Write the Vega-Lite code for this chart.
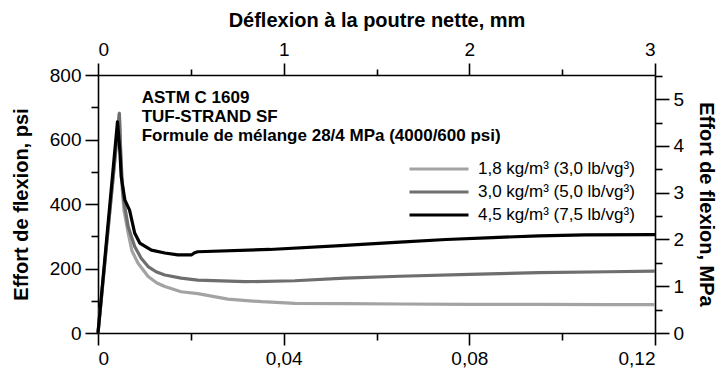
{
  "$schema": "https://vega.github.io/schema/vega-lite/v6.json",
  "width": 557,
  "height": 258,
  "autosize": {"type": "none"},
  "padding": {"left": 98, "top": 75, "right": 66, "bottom": 42},
  "background": "white",
  "config": {
    "view": {"stroke": null},
    "font": "Liberation Sans",
    "locale": {"number": {"decimal": ",", "thousands": ".", "grouping": [3], "currency": ["", " €"]}},
    "axis": {
      "grid": false,
      "domainColor": "black",
      "domainWidth": 1.6,
      "tickColor": "black",
      "tickWidth": 1.6,
      "labelColor": "black",
      "titleColor": "black",
      "labelFont": "Liberation Sans",
      "titleFont": "Liberation Sans",
      "labelFontSize": 19,
      "titleFontSize": 20,
      "titleFontWeight": "bold",
      "offset": 0
    }
  },
  "resolve": {
    "scale": {"x": "independent", "y": "independent"},
    "axis": {"x": "independent", "y": "independent"}
  },
  "layer": [
    {
      "layer": [
        {
          "data": {
            "values": [
              {"serie": "1,8 kg/m³ (3,0 lb/vg³)", "defl": 0, "psi": 0},
              {"serie": "1,8 kg/m³ (3,0 lb/vg³)", "defl": 0.0046, "psi": 682},
              {"serie": "1,8 kg/m³ (3,0 lb/vg³)", "defl": 0.00485, "psi": 560},
              {"serie": "1,8 kg/m³ (3,0 lb/vg³)", "defl": 0.0052, "psi": 450},
              {"serie": "1,8 kg/m³ (3,0 lb/vg³)", "defl": 0.0056, "psi": 380},
              {"serie": "1,8 kg/m³ (3,0 lb/vg³)", "defl": 0.0065, "psi": 310},
              {"serie": "1,8 kg/m³ (3,0 lb/vg³)", "defl": 0.0073, "psi": 255},
              {"serie": "1,8 kg/m³ (3,0 lb/vg³)", "defl": 0.0086, "psi": 217},
              {"serie": "1,8 kg/m³ (3,0 lb/vg³)", "defl": 0.0108, "psi": 175},
              {"serie": "1,8 kg/m³ (3,0 lb/vg³)", "defl": 0.0127, "psi": 155},
              {"serie": "1,8 kg/m³ (3,0 lb/vg³)", "defl": 0.0144, "psi": 144},
              {"serie": "1,8 kg/m³ (3,0 lb/vg³)", "defl": 0.0179, "psi": 128},
              {"serie": "1,8 kg/m³ (3,0 lb/vg³)", "defl": 0.0215, "psi": 122},
              {"serie": "1,8 kg/m³ (3,0 lb/vg³)", "defl": 0.028, "psi": 105},
              {"serie": "1,8 kg/m³ (3,0 lb/vg³)", "defl": 0.0353, "psi": 97},
              {"serie": "1,8 kg/m³ (3,0 lb/vg³)", "defl": 0.0424, "psi": 92},
              {"serie": "1,8 kg/m³ (3,0 lb/vg³)", "defl": 0.0532, "psi": 91},
              {"serie": "1,8 kg/m³ (3,0 lb/vg³)", "defl": 0.065, "psi": 90},
              {"serie": "1,8 kg/m³ (3,0 lb/vg³)", "defl": 0.08, "psi": 89},
              {"serie": "1,8 kg/m³ (3,0 lb/vg³)", "defl": 0.095, "psi": 89},
              {"serie": "1,8 kg/m³ (3,0 lb/vg³)", "defl": 0.11, "psi": 88},
              {"serie": "1,8 kg/m³ (3,0 lb/vg³)", "defl": 0.12, "psi": 88},
              {"serie": "3,0 kg/m³ (5,0 lb/vg³)", "defl": 0, "psi": 0},
              {"serie": "3,0 kg/m³ (5,0 lb/vg³)", "defl": 0.0046, "psi": 680},
              {"serie": "3,0 kg/m³ (5,0 lb/vg³)", "defl": 0.0049, "psi": 560},
              {"serie": "3,0 kg/m³ (5,0 lb/vg³)", "defl": 0.0052, "psi": 470},
              {"serie": "3,0 kg/m³ (5,0 lb/vg³)", "defl": 0.0055, "psi": 415},
              {"serie": "3,0 kg/m³ (5,0 lb/vg³)", "defl": 0.0065, "psi": 330},
              {"serie": "3,0 kg/m³ (5,0 lb/vg³)", "defl": 0.0079, "psi": 268},
              {"serie": "3,0 kg/m³ (5,0 lb/vg³)", "defl": 0.0093, "psi": 232},
              {"serie": "3,0 kg/m³ (5,0 lb/vg³)", "defl": 0.0108, "psi": 206},
              {"serie": "3,0 kg/m³ (5,0 lb/vg³)", "defl": 0.0125, "psi": 190},
              {"serie": "3,0 kg/m³ (5,0 lb/vg³)", "defl": 0.0144, "psi": 180},
              {"serie": "3,0 kg/m³ (5,0 lb/vg³)", "defl": 0.0179, "psi": 170},
              {"serie": "3,0 kg/m³ (5,0 lb/vg³)", "defl": 0.0215, "psi": 164},
              {"serie": "3,0 kg/m³ (5,0 lb/vg³)", "defl": 0.0317, "psi": 159},
              {"serie": "3,0 kg/m³ (5,0 lb/vg³)", "defl": 0.0424, "psi": 162},
              {"serie": "3,0 kg/m³ (5,0 lb/vg³)", "defl": 0.0532, "psi": 170},
              {"serie": "3,0 kg/m³ (5,0 lb/vg³)", "defl": 0.065, "psi": 176},
              {"serie": "3,0 kg/m³ (5,0 lb/vg³)", "defl": 0.08, "psi": 182},
              {"serie": "3,0 kg/m³ (5,0 lb/vg³)", "defl": 0.095, "psi": 187},
              {"serie": "3,0 kg/m³ (5,0 lb/vg³)", "defl": 0.11, "psi": 190},
              {"serie": "3,0 kg/m³ (5,0 lb/vg³)", "defl": 0.12, "psi": 192},
              {"serie": "4,5 kg/m³ (7,5 lb/vg³)", "defl": 0, "psi": 0},
              {"serie": "4,5 kg/m³ (7,5 lb/vg³)", "defl": 0.0042, "psi": 655},
              {"serie": "4,5 kg/m³ (7,5 lb/vg³)", "defl": 0.0047, "psi": 567},
              {"serie": "4,5 kg/m³ (7,5 lb/vg³)", "defl": 0.005, "psi": 485},
              {"serie": "4,5 kg/m³ (7,5 lb/vg³)", "defl": 0.0058, "psi": 412},
              {"serie": "4,5 kg/m³ (7,5 lb/vg³)", "defl": 0.0068, "psi": 381},
              {"serie": "4,5 kg/m³ (7,5 lb/vg³)", "defl": 0.0079, "psi": 310},
              {"serie": "4,5 kg/m³ (7,5 lb/vg³)", "defl": 0.009, "psi": 279},
              {"serie": "4,5 kg/m³ (7,5 lb/vg³)", "defl": 0.0115, "psi": 257},
              {"serie": "4,5 kg/m³ (7,5 lb/vg³)", "defl": 0.0144, "psi": 248},
              {"serie": "4,5 kg/m³ (7,5 lb/vg³)", "defl": 0.0172, "psi": 242},
              {"serie": "4,5 kg/m³ (7,5 lb/vg³)", "defl": 0.0201, "psi": 242},
              {"serie": "4,5 kg/m³ (7,5 lb/vg³)", "defl": 0.0208, "psi": 249},
              {"serie": "4,5 kg/m³ (7,5 lb/vg³)", "defl": 0.0215, "psi": 252},
              {"serie": "4,5 kg/m³ (7,5 lb/vg³)", "defl": 0.037, "psi": 259},
              {"serie": "4,5 kg/m³ (7,5 lb/vg³)", "defl": 0.0532, "psi": 272},
              {"serie": "4,5 kg/m³ (7,5 lb/vg³)", "defl": 0.065, "psi": 282},
              {"serie": "4,5 kg/m³ (7,5 lb/vg³)", "defl": 0.075, "psi": 290},
              {"serie": "4,5 kg/m³ (7,5 lb/vg³)", "defl": 0.085, "psi": 296},
              {"serie": "4,5 kg/m³ (7,5 lb/vg³)", "defl": 0.095, "psi": 301},
              {"serie": "4,5 kg/m³ (7,5 lb/vg³)", "defl": 0.105, "psi": 304},
              {"serie": "4,5 kg/m³ (7,5 lb/vg³)", "defl": 0.12, "psi": 305}
            ]
          },
          "mark": {"type": "line", "strokeWidth": 3.2, "strokeJoin": "round"},
          "encoding": {
            "x": {
              "field": "defl", "type": "quantitative",
              "scale": {"domain": [0, 0.12], "nice": false, "zero": false},
              "axis": {"orient": "bottom", "values": [0, 0.04, 0.08, 0.12], "format": ".2~f", "tickSize": 12, "labelPadding": 4, "title": null, "offset": 0}
            },
            "y": {
              "field": "psi", "type": "quantitative",
              "scale": {"domain": [0, 800], "nice": false},
              "axis": {"orient": "left", "values": [0, 200, 400, 600, 800], "format": "d", "tickSize": 13, "labelPadding": 4, "title": "Effort de flexion, psi", "titlePadding": 18, "offset": 0}
            },
            "color": {
              "field": "serie", "type": "nominal",
              "scale": {
                "domain": ["1,8 kg/m³ (3,0 lb/vg³)", "3,0 kg/m³ (5,0 lb/vg³)", "4,5 kg/m³ (7,5 lb/vg³)"],
                "range": ["#a3a3a3", "#6e6e6e", "#000000"]
              },
              "legend": {
                "orient": "none", "legendX": 310, "legendY": 84, "title": null,
                "symbolType": "stroke", "symbolSize": 3481, "symbolStrokeWidth": 3,
                "clipHeight": 20, "rowPadding": 3, "padding": 0,
                "labelFont": "Liberation Sans", "labelFontSize": 17, "labelColor": "black", "labelOffset": 8
              }
            }
          }
        },
        {
          "data": {"values": [{}]},
          "mark": {
            "type": "text",
            "text": ["ASTM C 1609", "TUF-STRAND SF", "Formule de mélange 28/4 MPa (4000/600 psi)"],
            "align": "left", "baseline": "alphabetic", "lineHeight": 19,
            "font": "Liberation Sans", "fontWeight": "bold", "fontSize": 17, "color": "black"
          },
          "encoding": {
            "x": {"datum": 0.0094, "type": "quantitative"},
            "y": {"datum": 713, "type": "quantitative"}
          }
        }
      ]
    },
    {
      "data": {"values": [{"a": 0, "b": 0}]},
      "mark": {"type": "point", "opacity": 0},
      "encoding": {
        "x": {
          "field": "a", "type": "quantitative",
          "scale": {"domain": [0, 0.12], "nice": false, "zero": false},
          "axis": {"orient": "bottom", "values": [0.02, 0.06, 0.1], "labels": false, "domain": false, "tickSize": 7, "title": null, "offset": 0}
        },
        "y": {
          "field": "b", "type": "quantitative",
          "scale": {"domain": [0, 800], "nice": false},
          "axis": {"orient": "left", "values": [100, 300, 500, 700], "labels": false, "domain": false, "tickSize": 7, "title": null, "offset": 0}
        }
      }
    },
    {
      "data": {"values": [{"mm": 0, "mpa": 0}]},
      "mark": {"type": "point", "opacity": 0},
      "encoding": {
        "x": {
          "field": "mm", "type": "quantitative",
          "scale": {"domain": [0, 3], "nice": false, "zero": false},
          "axis": {"orient": "top", "values": [0, 1, 2, 3], "format": "d", "tickSize": 12, "labelPadding": 4, "title": "Déflexion à la poutre nette, mm", "titlePadding": 10, "offset": 0}
        },
        "y": {
          "field": "mpa", "type": "quantitative",
          "scale": {"domain": [0, 5.5158], "nice": false},
          "axis": {"orient": "right", "values": [0, 1, 2, 3, 4, 5], "format": "d", "tickSize": 14, "labelPadding": 4, "title": "Effort de flexion, MPa", "titlePadding": 12, "offset": 0}
        }
      }
    },
    {
      "data": {"values": [{"mm": 0, "mpa": 0}]},
      "mark": {"type": "point", "opacity": 0},
      "encoding": {
        "x": {
          "field": "mm", "type": "quantitative",
          "scale": {"domain": [0, 3], "nice": false, "zero": false},
          "axis": {"orient": "top", "values": [0.5, 1.5, 2.5], "labels": false, "domain": false, "tickSize": 6, "title": null, "offset": 0}
        },
        "y": {
          "field": "mpa", "type": "quantitative",
          "scale": {"domain": [0, 5.5158], "nice": false},
          "axis": {"orient": "right", "values": [0.5, 1.5, 2.5, 3.5, 4.5, 5.5], "labels": false, "domain": false, "tickSize": 7, "title": null, "offset": 0}
        }
      }
    }
  ]
}
